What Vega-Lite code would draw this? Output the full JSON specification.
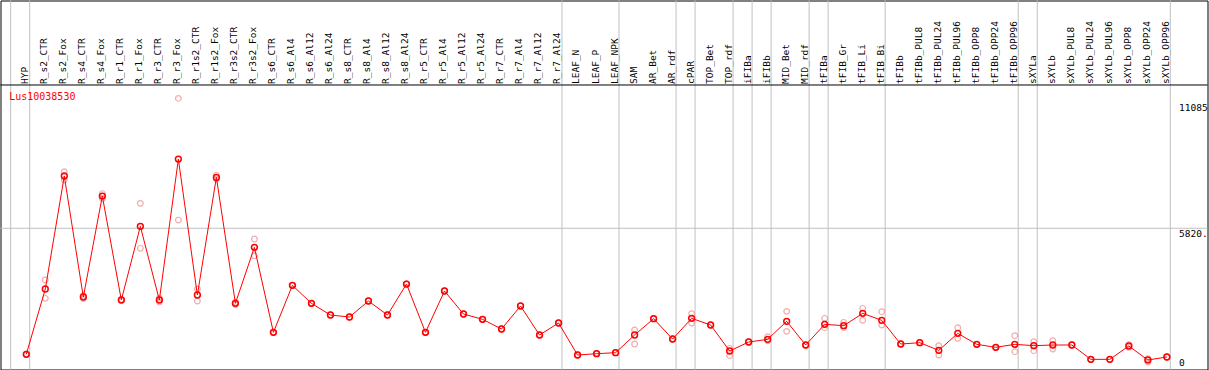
{
  "$schema": "https://vega.github.io/schema/vega-lite/v6.json",
  "width": 1207,
  "height": 369,
  "autosize": {"type": "none"},
  "padding": {"left": 0.5, "top": 0.5, "right": 1.5, "bottom": 0.5},
  "background": "white",
  "config": {
    "view": {"stroke": "black", "strokeWidth": 1, "fill": "white"},
    "font": "DejaVu Sans Mono"
  },
  "datasets": {
    "expr": [
      {"sample": "HYP", "mean": 335, "rep1": 350, "rep2": 320},
      {"sample": "R_s2_CTR", "mean": 3176, "rep1": 3567, "rep2": 2771},
      {"sample": "R_s2_Fox", "mean": 8093, "rep1": 8280, "rep2": 7918},
      {"sample": "R_s4_CTR", "mean": 2828, "rep1": 2900, "rep2": 2760},
      {"sample": "R_s4_Fox", "mean": 7222, "rep1": 7330, "rep2": 7110},
      {"sample": "R_r1_CTR", "mean": 2697, "rep1": 2720, "rep2": 2680},
      {"sample": "R_r1_Fox", "mean": 5903, "rep1": 6904, "rep2": 4947},
      {"sample": "R_r3_CTR", "mean": 2697, "rep1": 2780, "rep2": 2610},
      {"sample": "R_r3_Fox", "mean": 8830, "rep1": 11471, "rep2": 6177},
      {"sample": "R_r1s2_CTR", "mean": 2915, "rep1": 3176, "rep2": 2654},
      {"sample": "R_r1s2_Fox", "mean": 8034, "rep1": 8135, "rep2": 7960},
      {"sample": "R_r3s2_CTR", "mean": 2552, "rep1": 2600, "rep2": 2500},
      {"sample": "R_r3s2_Fox", "mean": 4989, "rep1": 5351, "rep2": 4625},
      {"sample": "R_s6_CTR", "mean": 1291, "rep1": 1291, "rep2": 1291},
      {"sample": "R_s6_Al4", "mean": 3336, "rep1": 3336, "rep2": 3336},
      {"sample": "R_s6_Al12", "mean": 2552, "rep1": 2552, "rep2": 2552},
      {"sample": "R_s6_Al24", "mean": 2045, "rep1": 2045, "rep2": 2045},
      {"sample": "R_s8_CTR", "mean": 1958, "rep1": 1958, "rep2": 1958},
      {"sample": "R_s8_Al4", "mean": 2654, "rep1": 2654, "rep2": 2654},
      {"sample": "R_s8_Al12", "mean": 2045, "rep1": 2045, "rep2": 2045},
      {"sample": "R_s8_Al24", "mean": 3393, "rep1": 3393, "rep2": 3393},
      {"sample": "R_r5_CTR", "mean": 1291, "rep1": 1291, "rep2": 1291},
      {"sample": "R_r5_Al4", "mean": 3089, "rep1": 3089, "rep2": 3089},
      {"sample": "R_r5_Al12", "mean": 2088, "rep1": 2088, "rep2": 2088},
      {"sample": "R_r5_Al24", "mean": 1857, "rep1": 1857, "rep2": 1857},
      {"sample": "R_r7_CTR", "mean": 1436, "rep1": 1436, "rep2": 1436},
      {"sample": "R_r7_Al4", "mean": 2436, "rep1": 2436, "rep2": 2436},
      {"sample": "R_r7_Al12", "mean": 1175, "rep1": 1175, "rep2": 1175},
      {"sample": "R_r7_Al24", "mean": 1697, "rep1": 1697, "rep2": 1697},
      {"sample": "LEAF_N", "mean": 305, "rep1": 305, "rep2": 305},
      {"sample": "LEAF_P", "mean": 362, "rep1": 362, "rep2": 362},
      {"sample": "LEAF_NPK", "mean": 406, "rep1": 406, "rep2": 406},
      {"sample": "SAM", "mean": 1175, "rep1": 1392, "rep2": 783},
      {"sample": "AR_Bet", "mean": 1885, "rep1": 1885, "rep2": 1885},
      {"sample": "AR_rdf", "mean": 1000, "rep1": 1000, "rep2": 1000},
      {"sample": "cPAR", "mean": 1900, "rep1": 2102, "rep2": 1697},
      {"sample": "TOP_Bet", "mean": 1610, "rep1": 1610, "rep2": 1610},
      {"sample": "TOP_rdf", "mean": 479, "rep1": 595, "rep2": 276},
      {"sample": "iFIBa", "mean": 870, "rep1": 870, "rep2": 870},
      {"sample": "iFIBb", "mean": 986, "rep1": 1102, "rep2": 920},
      {"sample": "MID_Bet", "mean": 1769, "rep1": 2204, "rep2": 1334},
      {"sample": "MID_rdf", "mean": 740, "rep1": 740, "rep2": 740},
      {"sample": "tFIBa", "mean": 1639, "rep1": 1900, "rep2": 1494},
      {"sample": "tFIB_Gr", "mean": 1580, "rep1": 1726, "rep2": 1494},
      {"sample": "tFIB_Li", "mean": 2117, "rep1": 2335, "rep2": 1813},
      {"sample": "tFIB_Bi", "mean": 1813, "rep1": 2190, "rep2": 1610},
      {"sample": "tFIBb", "mean": 783, "rep1": 783, "rep2": 783},
      {"sample": "tFIBb_PUL8", "mean": 841, "rep1": 841, "rep2": 841},
      {"sample": "tFIBb_PUL24", "mean": 508, "rep1": 711, "rep2": 305},
      {"sample": "tFIBb_PUL96", "mean": 1247, "rep1": 1494, "rep2": 1030},
      {"sample": "tFIBb_OPP8", "mean": 769, "rep1": 769, "rep2": 769},
      {"sample": "tFIBb_OPP24", "mean": 638, "rep1": 638, "rep2": 638},
      {"sample": "tFIBb_OPP96", "mean": 769, "rep1": 1145, "rep2": 449},
      {"sample": "sXYLa", "mean": 711, "rep1": 885, "rep2": 493},
      {"sample": "sXYLb", "mean": 740, "rep1": 928, "rep2": 566},
      {"sample": "sXYLb_PUL8", "mean": 740, "rep1": 740, "rep2": 740},
      {"sample": "sXYLb_PUL24", "mean": 116, "rep1": 116, "rep2": 116},
      {"sample": "sXYLb_PUL96", "mean": 116, "rep1": 116, "rep2": 116},
      {"sample": "sXYLb_OPP8", "mean": 696, "rep1": 750, "rep2": 640},
      {"sample": "sXYLb_OPP24", "mean": 87, "rep1": 150, "rep2": 0},
      {"sample": "sXYLb_OPP96", "mean": 218, "rep1": 218, "rep2": 218}
    ],
    "groups": [
      {"sample": "HYP"}, {"sample": "R_s2_CTR"}, {"sample": "LEAF_N"}, {"sample": "SAM"},
      {"sample": "cPAR"}, {"sample": "TOP_Bet"}, {"sample": "iFIBa"}, {"sample": "iFIBb"},
      {"sample": "MID_Bet"}, {"sample": "tFIBa"}, {"sample": "tFIB_Gr"}, {"sample": "tFIBb"},
      {"sample": "sXYLa"}, {"sample": "sXYLb"}
    ],
    "gene": [{"gene": "Lus10038530"}]
  },
  "resolve": {"axis": {"x": "independent", "y": "independent"}},
  "layer": [
    {
      "data": {"name": "groups"},
      "mark": {"type": "rule", "color": "#c0c0c0", "strokeWidth": 1},
      "encoding": {
        "x": {
          "field": "sample", "type": "nominal", "bandPosition": 0,
          "scale": {
            "type": "band", "paddingInner": 0, "paddingOuter": 0, "range": [10.2, 1169.8],
            "domain": ["HYP","R_s2_CTR","R_s2_Fox","R_s4_CTR","R_s4_Fox","R_r1_CTR","R_r1_Fox","R_r3_CTR","R_r3_Fox","R_r1s2_CTR","R_r1s2_Fox","R_r3s2_CTR","R_r3s2_Fox","R_s6_CTR","R_s6_Al4","R_s6_Al12","R_s6_Al24","R_s8_CTR","R_s8_Al4","R_s8_Al12","R_s8_Al24","R_r5_CTR","R_r5_Al4","R_r5_Al12","R_r5_Al24","R_r7_CTR","R_r7_Al4","R_r7_Al12","R_r7_Al24","LEAF_N","LEAF_P","LEAF_NPK","SAM","AR_Bet","AR_rdf","cPAR","TOP_Bet","TOP_rdf","iFIBa","iFIBb","MID_Bet","MID_rdf","tFIBa","tFIB_Gr","tFIB_Li","tFIB_Bi","tFIBb","tFIBb_PUL8","tFIBb_PUL24","tFIBb_PUL96","tFIBb_OPP8","tFIBb_OPP24","tFIBb_OPP96","sXYLa","sXYLb","sXYLb_PUL8","sXYLb_PUL24","sXYLb_PUL96","sXYLb_OPP8","sXYLb_OPP24","sXYLb_OPP96"]
          },
          "axis": {
            "orient": "top", "offset": -85, "title": null, "bandPosition": 0.7, "labelOffset": 5,
            "labelAngle": 270, "labelAlign": "left", "labelBaseline": "middle",
            "labelPadding": 2, "labelFontSize": 9.5, "labelFont": "DejaVu Sans Mono",
            "labelColor": "black", "labelOverlap": false, "labelFlush": false,
            "ticks": false, "grid": false, "domain": false
          }
        }
      }
    },
    {
      "data": {"name": "gene"},
      "mark": {"type": "rule", "color": "#c0c0c0", "strokeWidth": 1},
      "encoding": {
        "y": {
          "datum": 5820, "type": "quantitative",
          "scale": {"domain": [-326, 15732], "nice": false, "zero": false},
          "axis": {
            "orient": "right", "offset": -29, "title": null, "values": [0, 5820, 11085],
            "labelExpr": "datum.value == 0 ? '0' : datum.value + '.'",
            "labelAlign": "left",
            "labelBaseline": {"condition": {"test": "datum.value == 5820", "value": "top"}, "value": "middle"},
            "labelPadding": 0, "labelFontSize": 9.5, "labelFont": "DejaVu Sans Mono",
            "labelColor": "black", "labelOverlap": false, "labelFlush": false,
            "ticks": false, "grid": false, "domain": false
          }
        }
      }
    },
    {
      "data": {"name": "gene"},
      "mark": {"type": "rule", "color": "#c0c0c0", "strokeWidth": 1},
      "encoding": {
        "x": {"datum": "sXYLb_OPP96", "type": "nominal", "bandPosition": 1, "axis": null}
      }
    },
    {
      "data": {"name": "gene"},
      "mark": {"type": "rule", "color": "black", "strokeWidth": 1},
      "encoding": {
        "y": {"datum": 12055, "type": "quantitative", "axis": null}
      }
    },
    {
      "data": {"name": "expr"},
      "transform": [{"fold": ["rep1", "rep2"], "as": ["rep", "value"]}],
      "mark": {"type": "point", "shape": "circle", "filled": false, "color": "#ee8888", "size": 32, "strokeWidth": 1.2},
      "encoding": {
        "x": {"field": "sample", "type": "nominal", "bandPosition": 0.82, "axis": null},
        "y": {"field": "value", "type": "quantitative", "axis": null}
      }
    },
    {
      "data": {"name": "expr"},
      "mark": {"type": "line", "color": "#ff0000", "strokeWidth": 1},
      "encoding": {
        "x": {"field": "sample", "type": "nominal", "bandPosition": 0.82, "axis": null},
        "y": {"field": "mean", "type": "quantitative", "axis": null}
      }
    },
    {
      "data": {"name": "expr"},
      "mark": {"type": "point", "shape": "circle", "filled": false, "color": "#ff0000", "size": 34, "strokeWidth": 1.5, "opacity": 1},
      "encoding": {
        "x": {"field": "sample", "type": "nominal", "bandPosition": 0.82, "axis": null},
        "y": {"field": "mean", "type": "quantitative", "axis": null}
      }
    },
    {
      "data": {"name": "gene"},
      "mark": {"type": "text", "color": "#ff0000", "fontSize": 10, "font": "DejaVu Sans Mono", "align": "left", "baseline": "middle", "dx": -1.5},
      "encoding": {
        "x": {"datum": "HYP", "type": "nominal", "bandPosition": 0, "axis": null},
        "y": {"datum": 11530, "type": "quantitative", "axis": null},
        "text": {"field": "gene"}
      }
    }
  ]
}
